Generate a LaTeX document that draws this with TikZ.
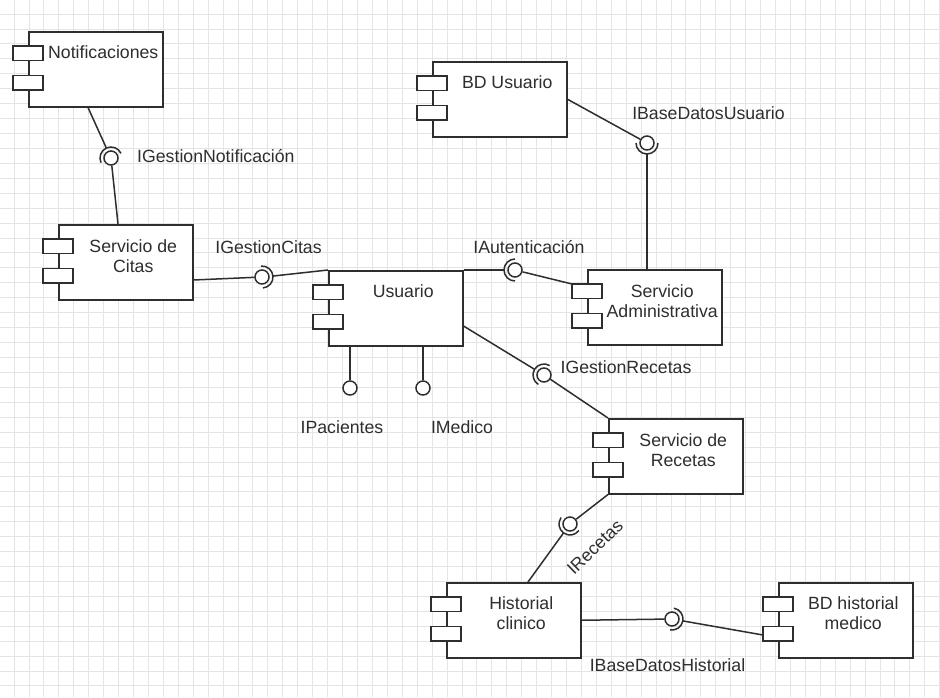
\documentclass[tikz,border=0pt]{standalone}
\usepackage{fontspec}
\setmainfont{Liberation Sans}
\usetikzlibrary{calc}
\definecolor{ink}{HTML}{2E2E2E}
\definecolor{gridc}{HTML}{E4E4E4}
\newcommand{\comp}[5]{% name, left, top, label, label offset
  \node[compbox, anchor=north west] (#1) at (#2,#3) {};
  \draw[port] ($(#1.north west)+(-15,15)$) rectangle ++(30,14.5);
  \draw[port] ($(#1.north west)+(-15,44.5)$) rectangle ++(30,14.5);
  \node[lbl] (#1t) at ($(#1.north)+(7.5,#5)$) {#4};
}
\newcommand{\iface}[4]{% name, x, y, socket angle
  \node[ball] (#1) at (#2,#3) {};
  \pgfmathsetmacro\sockA{#4-90}\pgfmathsetmacro\sockB{#4+90}
  \draw[conn] ($(#1.center)+(\sockA:11pt)$) arc[start angle=\sockA, end angle=\sockB, radius=11pt];
  \coordinate (#1s) at ($(#1.center)+(#4:11pt)$);
}
\begin{document}
\begin{tikzpicture}[x=1pt,y=-1pt,
  every node/.style={font=\fontsize{17.7}{20}\selectfont, text=ink},
  compbox/.style={draw=ink, line width=1.5pt, fill=white, minimum width=134pt, minimum height=75pt, inner sep=0pt},
  port/.style={draw=ink, line width=1.5pt, fill=white},
  conn/.style={draw=ink, line width=1.5pt},
  ball/.style={circle, draw=ink, line width=1.5pt, fill=white, minimum size=14pt, inner sep=0pt},
  lbl/.style={align=center, inner sep=0pt},
  gridline/.style={draw=gridc, line width=0.8pt}]
\useasboundingbox (0,0) rectangle (940,697);
\fill[white] (0,0) rectangle (940,697);
\foreach \i in {0,...,62} \draw[gridline] ({14+14.93*\i},0) -- ({14+14.93*\i},697);
\foreach \j in {0,...,45} \draw[gridline] (0,{14+14.93*\j}) -- (940,{14+14.93*\j});

% components
\comp{notif}{28}{31}{Notificaciones}{21.5}
\comp{bdu}{432}{61}{BD Usuario}{21.5}
\comp{citas}{58}{224}{Servicio de\\Citas}{32}
\comp{usuario}{328}{270}{Usuario}{21.5}
\comp{admin}{587}{269}{Servicio\\Administrativa}{32}
\comp{recetas}{608}{418}{Servicio de\\Recetas}{32}
\comp{hist}{446}{582}{Historial\\clinico}{31.5}
\comp{bdh}{778}{582}{BD historial\\medico}{31.5}

% interfaces
\iface{b1}{111}{158}{115}
\iface{b2}{262}{277}{5}
\iface{b3}{515}{270}{180}
\iface{b4}{647}{143}{-90}
\iface{b5}{544}{375}{149}
\iface{b6}{570}{524}{234}
\iface{b7}{672}{619}{-10}
\node[ball] (bp) at (350,388) {};
\node[ball] (bm) at (423,388) {};

% connectors
\draw[conn] ($(notif.south west)+(60,0)$) -- (b1s);
\draw[conn] (b1) -- ($(citas.north west)+(60,0)$);
\draw[conn] ($(citas.north east)+(0,56)$) -- (b2);
\draw[conn] (b2s) -- (usuario.north west);
\draw[conn] (usuario.north east) -- (b3s);
\draw[conn] (b3) -- ($(admin.north west)+(-15,15)$);
\draw[conn] (bdu.east) -- (b4);
\draw[conn] (b4s) -- ($(admin.north west)+(60,0)$);
\draw[conn] ($(usuario.north east)+(0,56)$) -- (b5s);
\draw[conn] (b5) -- (recetas.north west);
\draw[conn] (recetas.south west) -- (b6);
\draw[conn] (b6s) -- ($(hist.north west)+(82,0)$);
\draw[conn] (hist.east) -- (b7);
\draw[conn] (b7s) -- ($(bdh.north west)+(-15,53)$);
\draw[conn] ($(usuario.south west)+(22,0)$) -- (bp);
\draw[conn] ($(usuario.south west)+(95,0)$) -- (bm);

% interface labels
\node[lbl, anchor=west] (l1) at (137,156) {IGestionNotificación};
\node[lbl] (l2) at (268.5,247) {IGestionCitas};
\node[lbl] (l3) at (529,247) {IAutenticación};
\node[lbl] (l4) at (708.5,113) {IBaseDatosUsuario};
\node[lbl] (l5) at (626,367) {IGestionRecetas};
\node[lbl] (l6) at (342,427) {IPacientes};
\node[lbl] (l7) at (462,427) {IMedico};
\node[lbl, rotate=44] (l8) at (595,547) {IRecetas};
\node[lbl] (l9) at (667.5,665) {IBaseDatosHistorial};
\end{tikzpicture}
\end{document}
